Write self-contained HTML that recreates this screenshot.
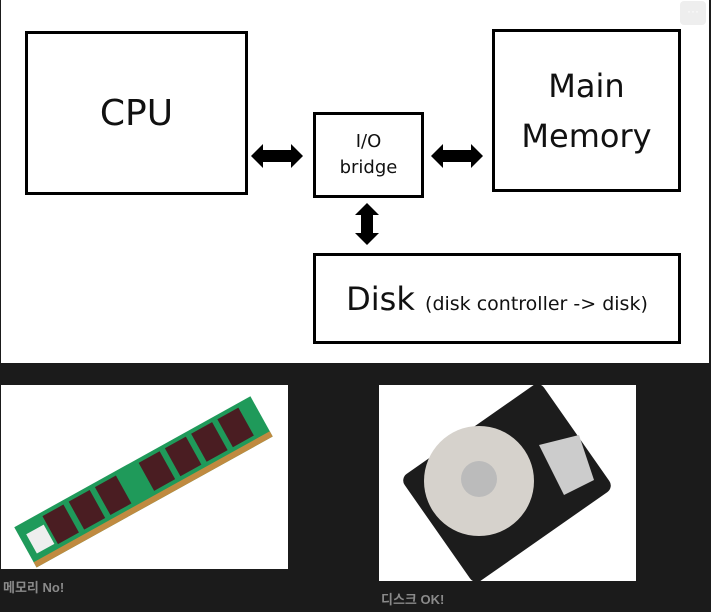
<!DOCTYPE html>
<html><head><style>
body{margin:0;width:711px;height:612px;background:#1b1b1b;overflow:hidden;font-family:"Liberation Sans","Noto Sans CJK KR",sans-serif;position:relative}
.a{position:absolute}
.box{position:absolute;border:3px solid #000;box-sizing:border-box;display:flex;align-items:center;justify-content:center;text-align:center;color:#111;font-family:"DejaVu Sans","Liberation Sans",sans-serif}
.cap{position:absolute;color:#8a8a8a;font-weight:bold;font-size:13px}
</style></head><body>
<div class="a" style="left:1px;top:0;width:708px;height:363px;background:#fff"></div>
<div class="a" style="left:680px;top:1px;width:26px;height:24px;background:#eee;border-radius:4px;color:#fff;font-size:12px;text-align:center;line-height:20px">···</div>
<div class="box" style="left:25px;top:31px;width:223px;height:164px;font-size:36px">CPU</div>
<div class="box" style="left:313px;top:112px;width:111px;height:86px;font-size:18px;line-height:26px">I/O<br>bridge</div>
<div class="box" style="left:492px;top:29px;width:189px;height:163px;font-size:32px;line-height:50px">Main<br>Memory</div>
<div class="box" style="left:313px;top:253px;width:368px;height:91px;font-size:32px"><span>Disk <span style="font-size:19px">(disk controller -&gt; disk)</span></span></div>
<svg class="a" style="left:0;top:0" width="711" height="363">
<g fill="#000">
<polygon points="251,156 263,144 263,150 291,150 291,144 303,156 291,168 291,162 263,162 263,168"/>
<polygon points="431,156 443,144 443,150 471,150 471,144 483,156 471,168 471,162 443,162 443,168"/>
<polygon points="367,203 379,215 373,215 373,233 379,233 367,245 355,233 361,233 361,215 355,215"/>
</g></svg>
<div class="a" style="left:1px;top:385px;width:287px;height:184px;background:#fff">
<svg width="287" height="184"><g transform="translate(142,96) rotate(-29)">
<rect x="-135" y="-22" width="270" height="46" fill="#1f9a5a"/>
<rect x="-135" y="18" width="270" height="6" fill="#c08a40"/>
<g fill="#4a1d22"><rect x="-105" y="-18" width="24" height="32"/><rect x="-75" y="-18" width="24" height="32"/><rect x="-45" y="-18" width="24" height="32"/><rect x="5" y="-18" width="24" height="32"/><rect x="35" y="-18" width="24" height="32"/><rect x="65" y="-18" width="24" height="32"/><rect x="95" y="-18" width="24" height="32"/></g>
<rect x="-128" y="-10" width="20" height="22" fill="#eee"/></g></svg></div>
<div class="a" style="left:379px;top:385px;width:257px;height:196px;background:#fff">
<svg width="257" height="196"><g transform="translate(128,98) rotate(-35)">
<rect x="-85" y="-65" width="170" height="130" rx="8" fill="#1c1c1c"/></g>
<circle cx="100" cy="96" r="55" fill="#d6d2cc"/><circle cx="100" cy="94" r="18" fill="#bbb"/>
<polygon points="160,60 200,50 215,95 185,110" fill="#ccc"/></svg></div>
<div class="cap" style="left:3px;top:577px">메모리 No!</div>
<div class="cap" style="left:381px;top:589px">디스크 OK!</div>
</body></html>
